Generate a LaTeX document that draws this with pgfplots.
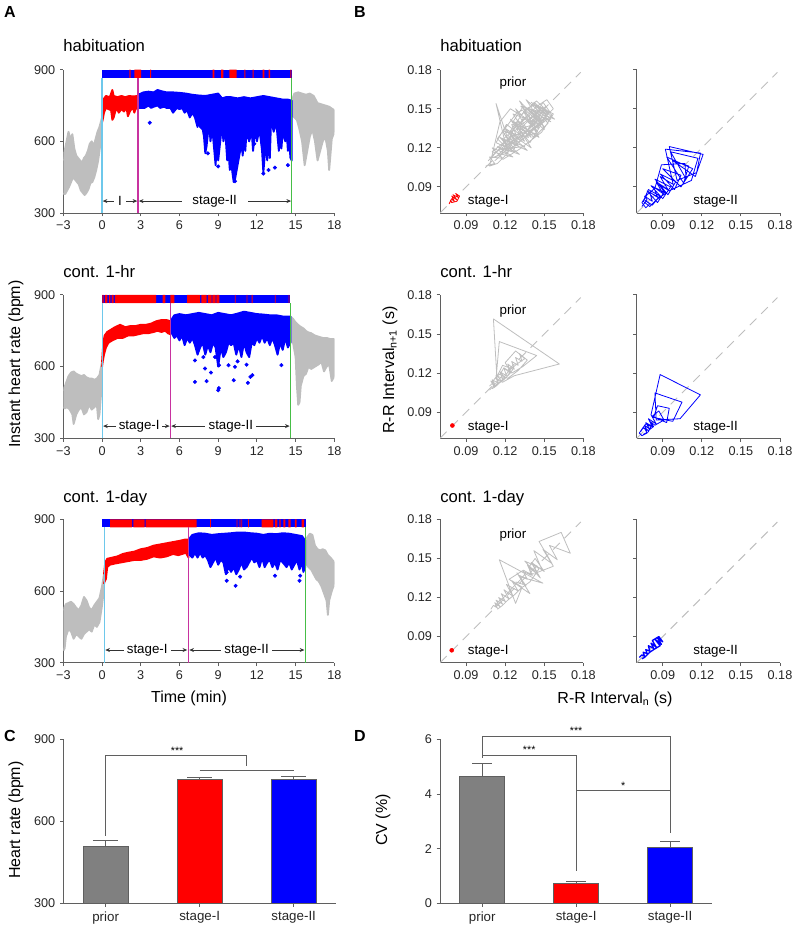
\documentclass[border=0pt]{standalone}
\usepackage{fontspec}
\setmainfont{Liberation Sans}
\usepackage{pgfplots}
\pgfplotsset{compat=1.18}
\usetikzlibrary{arrows.meta}

\definecolor{axgray}{RGB}{95,95,95}
\definecolor{ptgray}{RGB}{190,190,190}
\definecolor{barg}{RGB}{128,128,128}
\definecolor{lcyan}{RGB}{110,200,235}
\definecolor{lmag}{RGB}{200,50,160}
\definecolor{lgreen}{RGB}{70,190,70}

\tikzset{
  sarrow/.style={{Stealth[length=3.5pt,width=3pt]}-{Stealth[length=3.5pt,width=3pt]}, black!80, line width=0.6pt},
  alab/.style={fill=white, inner ysep=1pt, font=\fontsize{10}{12}\selectfont},
  blab/.style={font=\fontsize{10}{12}\selectfont},
}
\pgfplotsset{
  fig/.style={scale only axis, anchor=south west,
    axis x line*=bottom, axis y line*=left, xtick pos=left, ytick pos=left,
    axis line style={draw=axgray, line width=0.7pt},
    every tick/.style={draw=axgray, line width=0.7pt},
    tick align=outside, major tick length=2.5pt,
    ticklabel style={font=\fontsize{9.5}{11}\selectfont, text=black!85},
    /pgf/number format/assume math mode=true},
  tsA/.style={fig, width=203.25pt, height=107.5pt, xmin=-3, xmax=18, ymin=300, ymax=900,
    xtick={-3,0,...,18}, xticklabels={−3,0,3,6,9,12,15,18}, ytick={300,600,900}},
  poin/.style={fig, width=107.5pt, height=107.5pt, xmin=0.07, xmax=0.18, ymin=0.07, ymax=0.18,
    xtick={0.09,0.12,0.15,0.18}, ytick={0.09,0.12,0.15,0.18},
    xticklabels={0.09,0.12,0.15,0.18}, yticklabels={0.09,0.12,0.15,0.18}},
  blob/.style={line width=1.4pt, line join=round},
  stripe/.style={draw=none, unbounded coords=jump},
  rr/.style={line width=0.6pt, line join=round},
  diag/.style={ptgray, line width=0.7pt, dash pattern=on 7pt off 5pt},
  barerr/.style={error bars/.cd, y dir=plus, y explicit,
    error bar style={line width=0.6pt, draw=axgray},
    error mark options={rotate=90, line width=0.6pt, draw=axgray, mark size=#1}},
}

\begin{document}
\begin{tikzpicture}
\path[use as bounding box] (0pt,0pt) rectangle (597.75pt,-696pt);

% ---------------- A: habituation
\begin{axis}[tsA, at={(47.5pt,-159.75pt)}]
\addplot[ptgray, fill=ptgray, blob] coordinates {(-3,520)(-2.9,560)(-2.75,600)(-2.6,640)(-2.45,610)(-2.3,630)(-2.15,570)(-2.0,540)(-1.85,530)(-1.7,520)(-1.55,510)(-1.4,530)(-1.25,540)(-1.1,560)(-0.95,590)(-0.8,600)(-0.65,580)(-0.5,610)(-0.35,640)(-0.2,660)(-0.05,690)(0,700)
 (0,650)(-0.1,600)(-0.2,560)(-0.3,520)(-0.45,480)(-0.6,450)(-0.75,430)(-0.9,425)(-1.05,400)(-1.2,385)(-1.35,375)(-1.5,385)(-1.65,395)(-1.8,420)(-1.95,430)(-2.1,440)(-2.25,450)(-2.4,430)(-2.55,410)(-2.7,395)(-2.85,380)(-3,380)};
\addplot[ptgray, fill=ptgray, blob] coordinates {(14.7,770)(14.9,800)(15.2,805)(15.5,800)(15.8,795)(16.1,800)(16.4,790)(16.7,760)(17.0,755)(17.3,750)(17.6,745)(18,730)
 (18,640)(17.8,610)(17.6,480)(17.5,560)(17.3,620)(17.1,600)(16.9,560)(16.7,520)(16.5,600)(16.3,650)(16.1,620)(15.9,560)(15.7,500)(15.5,600)(15.3,650)(15.1,690)(14.9,700)(14.7,710)};
\addplot[red, fill=red, blob] coordinates {(0,700)(0.1,775)(0.3,790)(0.6,785)(0.8,815)(0.9,790)(1.2,785)(1.5,790)(1.8,785)(2.1,790)(2.4,788)(2.8,790)
 (2.8,745)(2.6,735)(2.5,720)(2.4,740)(2.2,730)(2.0,705)(1.9,740)(1.7,725)(1.5,735)(1.3,720)(1.1,740)(0.9,700)(0.8,690)(0.7,730)(0.5,735)(0.3,740)(0.15,720)(0.05,690)(0,680)};
\addplot[blue, fill=blue, blob] coordinates {(2.8,795)(3.2,805)(3.6,808)(4.0,805)(4.3,815)(4.6,810)(5.0,805)(5.5,805)(6.0,803)(6.5,800)(7.0,795)(7.5,792)(8.0,790)(8.5,795)(9.0,800)(9.3,780)(9.6,785)(10.0,785)(10.5,780)(11.0,785)(11.5,780)(12.0,785)(12.5,790)(13.0,785)(13.5,780)(14.0,775)(14.4,775)(14.7,770)
 (14.7,520)(14.6,530)(14.5,600)(14.4,560)(14.3,650)(14.2,600)(14.0,640)(13.9,570)(13.8,620)(13.7,560)(13.5,680)(13.3,640)(13.1,690)(13.0,530)(12.9,620)(12.8,520)(12.7,600)(12.5,470)(12.4,560)(12.2,650)(12.0,600)(11.9,660)(11.7,560)(11.6,640)(11.4,600)(11.2,640)(11.1,560)(11.0,620)(10.9,540)(10.8,600)(10.7,560)(10.5,500)(10.3,440)(10.2,430)(10.1,470)(10.0,520)(9.9,480)(9.8,560)(9.7,520)(9.6,600)(9.5,650)(9.4,600)(9.3,690)(9.2,620)(9.0,520)(8.9,600)(8.8,500)(8.7,560)(8.6,620)(8.5,640)(8.4,600)(8.3,680)(8.1,580)(8.0,550)(7.9,620)(7.8,650)(7.6,660)(7.5,690)(7.4,660)(7.2,700)(7.0,720)(6.8,700)(6.6,730)(6.4,720)(6.2,740)(6.0,735)(5.8,740)(5.5,720)(5.3,740)(5.0,740)(4.8,745)(4.5,740)(4.3,750)(4.0,745)(3.8,740)(3.6,750)(3.3,740)(3.0,740)(2.8,740)};
\addplot[blue, only marks, mark=*, mark size=1.3pt] coordinates {(3.7,678)(8.2,550)(9.0,495)(11.8,590)(12.5,465)(13.4,490)(14.4,500)(10.3,433)(12.9,480)};
\addplot[blue, fill=blue, stripe] coordinates {(0,866)(0,900)(14.7,900)(14.7,866)};
\addplot[red, fill=red, stripe] coordinates {(2.11,866)(2.11,900)(2.22,900)(2.22,866)(nan,nan)
 (2.50,866)(2.50,900)(3.02,900)(3.02,866)(nan,nan)(3.72,866)(3.72,900)(3.80,900)(3.80,866)(nan,nan)
 (8.57,866)(8.57,900)(8.70,900)(8.70,866)(nan,nan)(9.22,866)(9.22,900)(9.40,900)(9.40,866)(nan,nan)
 (9.86,866)(9.86,900)(10.43,900)(10.43,866)(nan,nan)(11.03,866)(11.03,900)(11.10,900)(11.10,866)(nan,nan)
 (11.67,866)(11.67,900)(11.75,900)(11.75,866)(nan,nan)(12.45,866)(12.45,900)(12.58,900)(12.58,866)(nan,nan)
 (12.91,866)(12.91,900)(13.02,900)(13.02,866)(nan,nan)(14.59,866)(14.59,900)(14.67,900)(14.67,866)};
\addplot[lcyan, line width=0.9pt] coordinates {(0,300)(0,866)};
\addplot[lmag, line width=0.9pt] coordinates {(2.78,300)(2.78,866)};
\addplot[lgreen, line width=0.9pt] coordinates {(14.7,300)(14.7,866)};
\draw[sarrow] (axis cs:0.05,350) -- (axis cs:2.73,350);
\node[alab, inner xsep=3pt] at (axis cs:1.38,350) {I};
\draw[sarrow] (axis cs:2.85,350) -- (axis cs:14.65,350);
\node[alab, inner xsep=8pt] at (axis cs:8.73,350) {stage-II};
\end{axis}

% ---------------- A: cont. 1-hr
\begin{axis}[tsA, at={(47.5pt,-328.7pt)}]
\addplot[ptgray, fill=ptgray, blob] coordinates {(-3,500)(-2.8,530)(-2.6,560)(-2.4,575)(-2.2,580)(-2.0,570)(-1.8,565)(-1.6,560)(-1.4,565)(-1.2,555)(-1.0,550)(-0.8,550)(-0.6,545)(-0.4,550)(-0.2,565)(0,620)
 (0,520)(-0.1,470)(-0.2,400)(-0.3,380)(-0.4,440)(-0.6,430)(-0.8,420)(-1.0,440)(-1.2,410)(-1.4,400)(-1.6,430)(-1.8,420)(-2.0,400)(-2.2,360)(-2.3,400)(-2.5,420)(-2.7,430)(-2.9,425)(-3,430)};
\addplot[ptgray, fill=ptgray, blob] coordinates {(14.6,810)(14.8,800)(15.0,785)(15.3,770)(15.6,760)(15.9,745)(16.2,740)(16.5,730)(16.8,725)(17.1,720)(17.4,720)(17.7,715)(18,715)
 (18,560)(17.8,540)(17.6,610)(17.4,600)(17.2,580)(17.0,620)(16.8,610)(16.5,600)(16.2,590)(16.0,600)(15.8,570)(15.6,560)(15.4,520)(15.3,450)(15.2,440)(15.1,520)(15.0,640)(14.8,700)(14.6,710)};
\addplot[red, fill=red, blob] coordinates {(0,620)(0.1,700)(0.2,730)(0.4,745)(0.7,755)(1.0,765)(1.4,775)(1.8,765)(2.2,770)(2.6,770)(3.0,775)(3.4,775)(3.8,780)(4.2,790)(4.6,795)(5.0,795)(5.3,790)
 (5.3,735)(5.1,740)(4.9,750)(4.6,745)(4.3,750)(4.0,745)(3.6,740)(3.2,740)(2.8,735)(2.4,730)(2.0,730)(1.6,720)(1.2,720)(0.8,710)(0.5,700)(0.3,680)(0.15,650)(0.05,620)(0,600)};
\addplot[blue, fill=blue, blob] coordinates {(5.3,790)(5.6,815)(6.0,820)(6.5,815)(7.0,820)(7.5,825)(8.0,820)(8.5,815)(9.0,825)(9.5,820)(10.0,815)(10.5,822)(11.0,830)(11.5,825)(12.0,820)(12.5,818)(13.0,815)(13.5,815)(14.0,810)(14.6,810)
 (14.6,700)(14.4,680)(14.2,720)(14.0,670)(13.8,700)(13.6,650)(13.4,690)(13.2,720)(13.0,690)(12.8,720)(12.6,700)(12.4,730)(12.2,700)(12.0,720)(11.8,690)(11.6,700)(11.4,640)(11.2,660)(11.0,700)(10.8,640)(10.6,690)(10.4,650)(10.2,700)(10.0,690)(9.8,700)(9.6,660)(9.4,640)(9.2,680)(9.0,600)(8.8,680)(8.6,700)(8.4,660)(8.2,690)(8.0,650)(7.8,700)(7.6,680)(7.4,650)(7.2,690)(7.0,720)(6.8,700)(6.6,720)(6.4,690)(6.2,730)(6.0,710)(5.8,730)(5.6,720)(5.4,740)(5.3,740)};
\addplot[blue, only marks, mark=*, mark size=1.3pt] coordinates {(7.2,626)(7.2,536)(7.98,592)(8.1,539)(8.44,575)(8.75,640)(9.06,606)(9.0,501)(9.05,510)(9.8,606)(10.2,543)(10.3,599)(10.5,622)(11.2,608)(11.5,557)(11.65,564)(11.3,532)(13.9,606)(7.85,640)};
\addplot[blue, fill=blue, stripe] coordinates {(0.02,866)(0.02,900)(14.6,900)(14.6,866)};
\addplot[red, fill=red, stripe] coordinates {(0.02,866)(0.02,900)(0.13,900)(0.13,866)(nan,nan)
 (0.22,866)(0.22,900)(0.42,900)(0.42,866)(nan,nan)(0.53,866)(0.53,900)(0.65,900)(0.65,866)(nan,nan)
 (0.74,866)(0.74,900)(0.90,900)(0.90,866)(nan,nan)(1.0,866)(1.0,900)(4.2,900)(4.2,866)(nan,nan)
 (4.7,866)(4.7,900)(4.9,900)(4.9,866)(nan,nan)(5.3,866)(5.3,900)(5.6,900)(5.6,866)(nan,nan)
 (6.6,866)(6.6,900)(7.6,900)(7.6,866)(nan,nan)(7.7,866)(7.7,900)(8.1,900)(8.1,866)(nan,nan)
 (8.2,866)(8.2,900)(8.5,900)(8.5,866)(nan,nan)(8.55,866)(8.55,900)(8.8,900)(8.8,866)(nan,nan)
 (8.85,866)(8.85,900)(9.1,900)(9.1,866)(nan,nan)(10.3,866)(10.3,900)(10.36,900)(10.36,866)(nan,nan)
 (11.2,866)(11.2,900)(11.26,900)(11.26,866)(nan,nan)(11.6,866)(11.6,900)(11.66,900)(11.66,866)(nan,nan)
 (13.4,866)(13.4,900)(13.46,900)(13.46,866)(nan,nan)(14.45,866)(14.45,900)(14.51,900)(14.51,866)};
\addplot[lcyan, line width=0.9pt] coordinates {(0.02,300)(0.02,866)};
\addplot[lmag, line width=0.9pt] coordinates {(5.3,300)(5.3,866)};
\addplot[lgreen, line width=0.9pt] coordinates {(14.6,300)(14.6,866)};
\draw[sarrow] (axis cs:0.08,351) -- (axis cs:5.24,351);
\node[alab, inner xsep=2pt] at (axis cs:2.88,351) {stage-I};
\draw[sarrow] (axis cs:5.36,351) -- (axis cs:14.54,351);
\node[alab, inner xsep=2.5pt] at (axis cs:9.98,351) {stage-II};
\end{axis}

% ---------------- A: cont. 1-day
\begin{axis}[tsA, at={(47.5pt,-497pt)}]
\addplot[ptgray, fill=ptgray, blob] coordinates {(-3,520)(-2.8,545)(-2.6,550)(-2.4,555)(-2.2,545)(-2.0,530)(-1.8,520)(-1.6,540)(-1.4,575)(-1.2,560)(-1.0,530)(-0.8,520)(-0.6,540)(-0.4,555)(-0.2,570)(0,620)(0.15,670)
 (0.15,610)(0,540)(-0.2,470)(-0.4,450)(-0.6,460)(-0.8,430)(-1.0,440)(-1.2,430)(-1.4,420)(-1.6,400)(-1.8,410)(-2.0,420)(-2.2,400)(-2.4,430)(-2.6,440)(-2.8,410)(-2.9,360)(-3,350)};
\addplot[ptgray, fill=ptgray, blob] coordinates {(15.75,810)(15.9,825)(16.1,840)(16.3,835)(16.5,790)(16.7,775)(16.9,770)(17.1,775)(17.3,770)(17.5,750)(17.7,740)(18,720)
 (18,630)(17.8,600)(17.6,560)(17.5,500)(17.4,560)(17.2,590)(17.0,620)(16.8,640)(16.6,650)(16.4,670)(16.2,690)(16.0,700)(15.75,720)};
\addplot[red, fill=red, blob] coordinates {(0.15,670)(0.25,720)(0.4,735)(0.8,740)(1.2,745)(1.6,755)(2.0,760)(2.5,765)(3.0,775)(3.5,780)(4.0,790)(4.5,795)(5.0,800)(5.5,805)(6.0,810)(6.4,815)(6.7,815)
 (6.7,740)(6.5,760)(6.2,755)(5.9,750)(5.5,755)(5.0,745)(4.5,740)(4.0,745)(3.5,735)(3.0,730)(2.5,730)(2.0,725)(1.5,720)(1.0,715)(0.6,710)(0.4,700)(0.3,650)(0.2,640)(0.15,630)};
\addplot[blue, fill=blue, blob] coordinates {(6.7,815)(7.0,835)(7.5,842)(8.0,840)(8.5,835)(9.0,838)(9.5,840)(10.0,842)(10.5,845)(11.0,845)(11.5,842)(12.0,840)(12.5,835)(13.0,840)(13.5,838)(14.0,842)(14.5,840)(15.0,835)(15.5,830)(15.75,810)
 (15.75,700)(15.6,680)(15.5,720)(15.3,690)(15.1,730)(14.9,710)(14.7,690)(14.5,720)(14.3,700)(14.0,720)(13.8,730)(13.6,690)(13.4,720)(13.2,700)(13.0,730)(12.8,720)(12.6,700)(12.4,740)(12.2,700)(12.0,730)(11.8,720)(11.6,740)(11.4,720)(11.2,700)(11.0,690)(10.8,720)(10.6,690)(10.4,670)(10.2,700)(10.0,680)(9.8,700)(9.6,670)(9.4,720)(9.2,730)(9.0,710)(8.8,740)(8.6,720)(8.4,700)(8.2,730)(8.0,750)(7.8,740)(7.6,760)(7.4,740)(7.2,760)(7.0,740)(6.8,750)(6.7,760)};
\addplot[blue, only marks, mark=*, mark size=1.3pt] coordinates {(9.66,678)(9.66,643)(10.35,622)(13.4,664)(15.3,643)(15.35,664)(10.7,660)};
\addplot[blue, fill=blue, stripe] coordinates {(0.02,866)(0.02,900)(15.8,900)(15.8,866)};
\addplot[red, fill=red, stripe] coordinates {(0.62,866)(0.62,900)(2.33,900)(2.33,866)(nan,nan)
 (2.42,866)(2.42,900)(3.29,900)(3.29,866)(nan,nan)(3.38,866)(3.38,900)(7.33,900)(7.33,866)(nan,nan)
 (8.37,866)(8.37,900)(8.43,900)(8.43,866)(nan,nan)(10.43,866)(10.43,900)(10.49,900)(10.49,866)(nan,nan)
 (10.67,866)(10.67,900)(10.72,900)(10.72,866)(nan,nan)(10.8,866)(10.8,900)(10.85,900)(10.85,866)(nan,nan)
 (11.32,866)(11.32,900)(11.38,900)(11.38,866)(nan,nan)(12.37,866)(12.37,900)(13.27,900)(13.27,866)(nan,nan)
 (13.4,866)(13.4,900)(13.58,900)(13.58,866)(nan,nan)(13.74,866)(13.74,900)(13.84,900)(13.84,866)(nan,nan)
 (14.05,866)(14.05,900)(14.2,900)(14.2,866)(nan,nan)(14.44,866)(14.44,900)(14.62,900)(14.62,866)(nan,nan)
 (14.95,866)(14.95,900)(15.08,900)(15.08,866)(nan,nan)(15.47,866)(15.47,900)(15.65,900)(15.65,866)};
\addplot[lcyan, line width=0.9pt] coordinates {(0.18,300)(0.18,866)};
\addplot[lmag, line width=0.9pt] coordinates {(6.68,300)(6.68,866)};
\addplot[lgreen, line width=0.9pt] coordinates {(15.75,300)(15.75,866)};
\draw[sarrow] (axis cs:0.25,353) -- (axis cs:6.6,353);
\node[alab, inner xsep=2.5pt] at (axis cs:3.5,353) {stage-I};
\draw[sarrow] (axis cs:6.76,353) -- (axis cs:15.68,353);
\node[alab, inner xsep=2.5pt] at (axis cs:11.2,353) {stage-II};
\end{axis}

% ---------------- B: habituation
\begin{axis}[poin, at={(330pt,-159.75pt)}]
\addplot[diag] coordinates {(0.07,0.07)(0.178,0.178)};
\addplot[ptgray, rr] coordinates {(0.105,0.106)(0.112,0.108)(0.108,0.113)(0.118,0.112)(0.110,0.120)(0.122,0.115)(0.113,0.154)(0.125,0.118)(0.116,0.128)(0.130,0.122)(0.120,0.135)(0.135,0.125)(0.124,0.142)(0.140,0.128)(0.128,0.150)(0.145,0.132)(0.131,0.156)(0.150,0.136)(0.136,0.157)(0.155,0.140)(0.138,0.150)(0.158,0.142)(0.142,0.155)(0.150,0.134)(0.134,0.148)(0.146,0.128)(0.127,0.140)(0.140,0.120)(0.121,0.133)(0.137,0.118)(0.117,0.127)(0.131,0.115)(0.114,0.121)(0.126,0.113)(0.110,0.117)(0.120,0.125)(0.128,0.131)(0.125,0.138)(0.133,0.136)(0.141,0.144)(0.148,0.151)(0.153,0.147)(0.149,0.141)(0.141,0.135)(0.135,0.128)(0.128,0.122)(0.122,0.130)(0.130,0.138)(0.138,0.146)(0.146,0.153)(0.152,0.157)(0.157,0.150)(0.150,0.143)(0.143,0.136)(0.136,0.129)(0.129,0.123)(0.123,0.118)(0.118,0.126)(0.126,0.134)(0.134,0.141)(0.141,0.147)(0.147,0.139)(0.139,0.131)(0.131,0.125)(0.125,0.120)(0.120,0.114)(0.114,0.108)(0.108,0.106)(0.116,0.140)(0.124,0.150)(0.132,0.145)(0.144,0.156)(0.156,0.145)(0.146,0.137)(0.136,0.132)(0.127,0.126)(0.119,0.121)(0.112,0.116)(0.107,0.110)};
\addplot[ptgray, rr] coordinates {(0.112,0.110)(0.125,0.122)(0.118,0.133)(0.138,0.128)(0.126,0.146)(0.148,0.138)(0.132,0.152)(0.152,0.146)(0.140,0.155)(0.155,0.142)(0.137,0.140)(0.147,0.149)(0.129,0.135)(0.143,0.131)(0.122,0.126)(0.135,0.121)(0.116,0.119)(0.128,0.117)(0.113,0.124)(0.121,0.138)(0.133,0.129)(0.144,0.141)(0.151,0.152)(0.145,0.135)(0.134,0.144)(0.127,0.119)(0.119,0.131)(0.139,0.137)(0.150,0.140)(0.136,0.150)(0.124,0.133)(0.131,0.126)(0.141,0.139)(0.146,0.146)(0.153,0.139)(0.142,0.128)(0.130,0.141)(0.117,0.115)(0.109,0.112)(0.123,0.128)(0.137,0.133)(0.149,0.155)(0.154,0.148)(0.139,0.124)(0.126,0.140)(0.134,0.152)(0.147,0.143)(0.135,0.131)(0.121,0.120)(0.114,0.127)(0.129,0.147)(0.143,0.153)(0.157,0.146)(0.148,0.132)(0.131,0.119)(0.118,0.111)};
\addplot[red, rr] coordinates {(0.077,0.077)(0.079,0.081)(0.081,0.079)(0.079,0.083)(0.083,0.080)(0.080,0.084)(0.084,0.082)(0.082,0.085)(0.085,0.083)(0.083,0.079)(0.079,0.078)(0.078,0.080)};
\node[blab] at (axis cs:0.126,0.1695) {prior};
\node[blab] at (axis cs:0.107,0.0788) {stage-I};
\end{axis}
\begin{axis}[poin, at={(477.5pt,-159.75pt)}, yticklabels={}]
\addplot[diag] coordinates {(0.07,0.07)(0.178,0.178)};
\addplot[blue, rr] coordinates {(0.074,0.075)(0.078,0.080)(0.076,0.083)(0.082,0.079)(0.080,0.086)(0.086,0.082)(0.083,0.090)(0.090,0.085)(0.085,0.094)(0.094,0.088)(0.088,0.098)(0.098,0.092)(0.092,0.119)(0.119,0.116)(0.116,0.101)(0.101,0.095)(0.095,0.121)(0.121,0.115)(0.115,0.098)(0.098,0.110)(0.110,0.106)(0.106,0.093)(0.093,0.113)(0.113,0.104)(0.104,0.090)(0.090,0.104)(0.104,0.099)(0.099,0.088)(0.088,0.100)(0.100,0.094)(0.094,0.084)(0.084,0.096)(0.096,0.090)(0.090,0.081)(0.081,0.091)(0.091,0.086)(0.086,0.078)(0.078,0.087)(0.087,0.082)(0.082,0.076)(0.076,0.080)(0.080,0.077)(0.077,0.074)(0.074,0.078)(0.078,0.084)(0.084,0.089)(0.089,0.107)(0.107,0.108)(0.108,0.096)(0.096,0.117)(0.117,0.112)(0.112,0.095)(0.095,0.087)(0.087,0.092)(0.092,0.085)(0.085,0.080)(0.080,0.075)(0.075,0.079)(0.079,0.088)(0.088,0.083)(0.083,0.078)};
\node[blab] at (axis cs:0.1306,0.0788) {stage-II};
\end{axis}

% ---------------- B: cont. 1-hr
\begin{axis}[poin, at={(330pt,-328.7pt)}]
\addplot[diag] coordinates {(0.07,0.07)(0.178,0.178)};
\addplot[ptgray, rr] coordinates {(0.108,0.110)(0.110,0.112)(0.112,0.109)(0.109,0.114)(0.114,0.111)(0.111,0.1616)(0.1616,0.127)(0.127,0.118)(0.118,0.113)(0.113,0.1155)(0.1155,0.1442)(0.1442,0.1335)(0.1335,0.125)(0.125,0.120)(0.120,0.128)(0.128,0.137)(0.137,0.130)(0.130,0.122)(0.122,0.116)(0.116,0.119)(0.119,0.124)(0.124,0.121)(0.121,0.117)(0.117,0.114)(0.114,0.118)(0.118,0.126)(0.126,0.123)(0.123,0.119)(0.119,0.115)(0.115,0.112)(0.112,0.110)(0.110,0.113)(0.113,0.117)(0.117,0.120)(0.120,0.116)(0.116,0.113)(0.113,0.110)(0.110,0.108)};
\addplot[ptgray, rr] coordinates {(0.108,0.107)(0.112,0.111)(0.110,0.115)(0.115,0.112)(0.113,0.118)(0.118,0.116)(0.116,0.121)(0.121,0.118)(0.119,0.124)(0.124,0.120)(0.122,0.127)(0.127,0.123)(0.125,0.129)(0.130,0.126)(0.128,0.132)(0.133,0.129)(0.131,0.135)(0.135,0.131)(0.129,0.127)(0.123,0.122)(0.117,0.114)(0.111,0.109)};
\addplot[red, only marks, mark=*, mark size=1.5pt] coordinates {(0.0795,0.0798)};
\node[blab] at (axis cs:0.126,0.1675) {prior};
\node[blab] at (axis cs:0.107,0.0788) {stage-I};
\end{axis}
\begin{axis}[poin, at={(477.5pt,-328.7pt)}, yticklabels={}]
\addplot[diag] coordinates {(0.07,0.07)(0.178,0.178)};
\addplot[blue, rr] coordinates {(0.073,0.075)(0.075,0.078)(0.078,0.076)(0.076,0.080)(0.080,0.077)(0.077,0.082)(0.082,0.079)(0.079,0.085)(0.085,0.081)(0.081,0.088)(0.088,0.1189)(0.1189,0.1033)(0.1033,0.085)(0.085,0.084)(0.084,0.1048)(0.1048,0.0977)(0.0977,0.083)(0.083,0.086)(0.086,0.095)(0.095,0.093)(0.093,0.082)(0.082,0.087)(0.087,0.091)(0.091,0.084)(0.084,0.080)(0.080,0.083)(0.083,0.079)(0.079,0.076)(0.076,0.078)(0.078,0.074)(0.074,0.072)(0.072,0.074)(0.074,0.077)(0.077,0.081)(0.081,0.079)(0.079,0.075)(0.075,0.073)};
\node[blab] at (axis cs:0.1306,0.0788) {stage-II};
\end{axis}

% ---------------- B: cont. 1-day
\begin{axis}[poin, at={(330pt,-497pt)}]
\addplot[diag] coordinates {(0.07,0.07)(0.178,0.178)};
\addplot[ptgray, rr] coordinates {(0.109,0.111)(0.111,0.114)(0.114,0.112)(0.112,0.116)(0.116,0.113)(0.113,0.118)(0.118,0.115)(0.115,0.120)(0.120,0.117)(0.117,0.123)(0.123,0.119)(0.119,0.126)(0.126,0.121)(0.121,0.130)(0.130,0.125)(0.125,0.133)(0.133,0.128)(0.128,0.1155)(0.1155,0.149)(0.149,0.131)(0.131,0.136)(0.136,0.129)(0.129,0.139)(0.139,0.123)(0.123,0.134)(0.134,0.141)(0.141,0.137)(0.137,0.145)(0.145,0.138)(0.138,0.143)(0.143,0.150)(0.150,0.140)(0.140,0.147)(0.147,0.135)(0.135,0.148)(0.148,0.142)(0.142,0.156)(0.156,0.146)(0.146,0.163)(0.163,0.170)(0.170,0.154)(0.154,0.160)(0.160,0.149)(0.149,0.157)(0.157,0.144)(0.144,0.139)(0.139,0.132)(0.132,0.127)(0.127,0.122)(0.122,0.118)(0.118,0.114)(0.114,0.111)};
\addplot[ptgray, rr] coordinates {(0.128,0.132)(0.134,0.130)(0.131,0.137)(0.137,0.134)(0.134,0.140)(0.140,0.137)(0.138,0.144)(0.144,0.140)(0.141,0.146)(0.146,0.142)(0.143,0.138)(0.136,0.139)(0.132,0.134)(0.126,0.128)(0.120,0.121)(0.115,0.117)(0.112,0.113)};
\addplot[red, only marks, mark=*, mark size=1.5pt] coordinates {(0.079,0.0795)};
\node[blab] at (axis cs:0.126,0.168) {prior};
\node[blab] at (axis cs:0.107,0.0788) {stage-I};
\end{axis}
\begin{axis}[poin, at={(477.5pt,-497pt)}, yticklabels={}]
\addplot[diag] coordinates {(0.07,0.07)(0.178,0.178)};
\addplot[blue, rr, line width=1pt] coordinates {(0.072,0.074)(0.074,0.076)(0.076,0.075)(0.075,0.078)(0.078,0.077)(0.077,0.080)(0.080,0.079)(0.079,0.083)(0.083,0.081)(0.081,0.085)(0.085,0.082)(0.082,0.087)(0.087,0.090)(0.090,0.086)(0.086,0.089)(0.089,0.084)(0.084,0.088)(0.088,0.083)(0.083,0.080)(0.080,0.078)(0.078,0.076)(0.076,0.074)(0.074,0.073)};
\node[blab] at (axis cs:0.1306,0.0788) {stage-II};
\end{axis}

% ---------------- C
\begin{axis}[fig, at={(47.5pt,-677.5pt)}, width=204.5pt, height=123pt,
  xmin=-0.45, xmax=2.45, ymin=300, ymax=900, ytick={300,600,900},
  xtick={0,1,2}, xticklabels={prior,stage-I,stage-II},
  xticklabel style={font=\fontsize{10}{12}\selectfont}]
\addplot[ybar, bar width=0.48, bar shift=0pt, fill=barg, draw=axgray, line width=0.6pt, barerr=9.5pt] coordinates {(0,510) +- (0,20)};
\addplot[ybar, bar width=0.48, bar shift=0pt, fill=red, draw=axgray, line width=0.6pt, barerr=9.5pt] coordinates {(1,755) +- (0,6)};
\addplot[ybar, bar width=0.48, bar shift=0pt, fill=blue, draw=axgray, line width=0.6pt, barerr=9.5pt] coordinates {(2,755) +- (0,8)};
\draw[axgray, line width=0.6pt] (axis cs:0,548) -- (axis cs:0,842) -- (axis cs:1.5,842) -- (axis cs:1.5,803);
\draw[axgray, line width=0.6pt] (axis cs:1,787) -- (axis cs:2,787);
\node[anchor=base, font=\fontsize{8}{9}\selectfont, inner sep=0pt] at (axis cs:0.76,846) {***};
\end{axis}

% ---------------- D
\begin{axis}[fig, at={(330pt,-677.5pt)}, width=204.25pt, height=123pt, clip=false,
  xmin=-0.45, xmax=2.45, ymin=0, ymax=6, ytick={0,2,4,6},
  xtick={0,1,2}, xticklabels={prior,stage-I,stage-II},
  xticklabel style={font=\fontsize{10}{12}\selectfont}]
\addplot[ybar, bar width=0.48, bar shift=0pt, fill=barg, draw=axgray, line width=0.6pt, barerr=7.5pt] coordinates {(0,4.64) +- (0,0.49)};
\addplot[ybar, bar width=0.48, bar shift=0pt, fill=red, draw=axgray, line width=0.6pt, barerr=7.5pt] coordinates {(1,0.74) +- (0,0.05)};
\addplot[ybar, bar width=0.48, bar shift=0pt, fill=blue, draw=axgray, line width=0.6pt, barerr=7.5pt] coordinates {(2,2.05) +- (0,0.23)};
\draw[axgray, line width=0.6pt] (axis cs:0,5.33) -- (axis cs:0,6.1) -- (axis cs:2,6.1) -- (axis cs:2,2.57);
\draw[axgray, line width=0.6pt] (axis cs:0,5.43) -- (axis cs:1,5.43) -- (axis cs:1,1.2);
\draw[axgray, line width=0.6pt] (axis cs:1,4.12) -- (axis cs:2,4.12);
\node[anchor=base, font=\fontsize{8}{9}\selectfont, inner sep=0pt] at (axis cs:1,6.16) {***};
\node[anchor=base, font=\fontsize{8}{9}\selectfont, inner sep=0pt] at (axis cs:0.5,5.49) {***};
\node[anchor=base, font=\fontsize{8}{9}\selectfont, inner sep=0pt] at (axis cs:1.5,4.18) {*};
\end{axis}

% ---------------- labels
\begin{scope}[x=0.75pt, y=-0.75pt]
\node[font=\bfseries\fontsize{12}{14}\selectfont] at (10,12) {A};
\node[font=\bfseries\fontsize{12}{14}\selectfont] at (360,12) {B};
\node[font=\bfseries\fontsize{12}{14}\selectfont] at (10,736) {C};
\node[font=\bfseries\fontsize{12}{14}\selectfont] at (360,736) {D};
\foreach \xx in {63,440} {
  \node[anchor=base west, inner sep=0pt, font=\fontsize{12.5}{15}\selectfont] at (\xx,51.7) {habituation};
  \node[anchor=base west, inner sep=0pt, font=\fontsize{12.5}{15}\selectfont] at (\xx,277) {cont. 1-hr};
  \node[anchor=base west, inner sep=0pt, font=\fontsize{12.5}{15}\selectfont] at (\xx,502) {cont. 1-day};
}
\node[rotate=90, font=\fontsize{12}{14}\selectfont] at (16,364) {Instant heart rate (bpm)};
\node[font=\fontsize{12}{14}\selectfont] at (189,698) {Time (min)};
\node[rotate=90, font=\fontsize{12}{14}\selectfont] at (390,370) {R-R Interval\textsubscript{n+1} (s)};
\node[font=\fontsize{12}{14}\selectfont] at (615,699) {R-R Interval\textsubscript{n} (s)};
\node[rotate=90, font=\fontsize{12}{14}\selectfont] at (16,820) {Heart rate (bpm)};
\node[rotate=90, font=\fontsize{12}{14}\selectfont] at (383,820) {CV (\%)};
\end{scope}
\end{tikzpicture}
\end{document}
